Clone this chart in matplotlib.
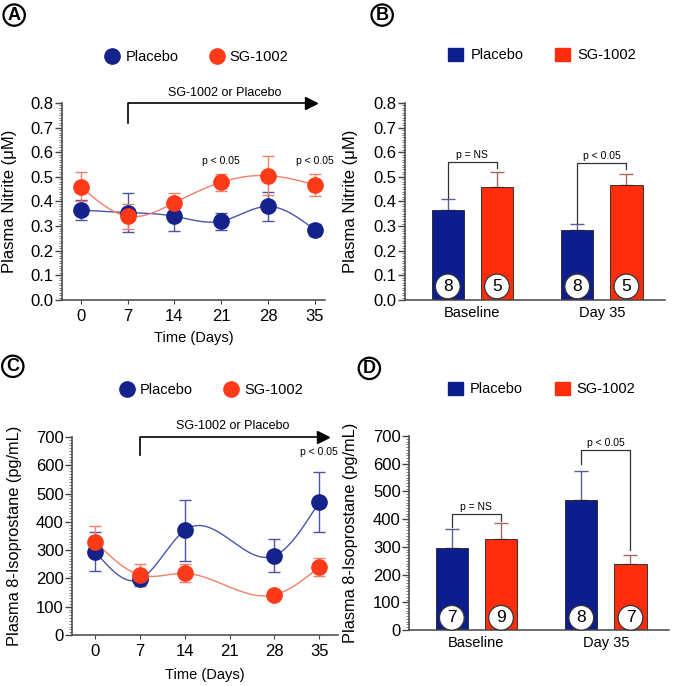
import numpy as np
import matplotlib
matplotlib.use("Agg")
import matplotlib.pyplot as plt
from matplotlib.lines import Line2D
from matplotlib.patches import Patch
from matplotlib.ticker import MultipleLocator

plt.rcParams['font.family'] = ['Liberation Sans', 'DejaVu Sans']

# ---- data ----
days = [0, 7, 14, 21, 28, 35]
nitrite_placebo = [0.365, 0.355, 0.340, 0.320, 0.380, 0.285]
nitrite_placebo_err = [0.040, 0.080, 0.060, 0.035, 0.060, 0.025]
nitrite_sg = [0.460, 0.340, 0.395, 0.478, 0.505, 0.468]
nitrite_sg_err = [0.060, 0.050, 0.040, 0.035, 0.080, 0.045]

iso_days = [0, 7, 14, 28, 35]
iso_placebo = [295, 197, 370, 280, 470]
iso_placebo_err = [70, 25, 108, 58, 105]
iso_sg = [330, 212, 218, 142, 240]
iso_sg_err = [55, 40, 32, 10, 32]

groups = ['Baseline', 'Day 35']
bar_nitrite_placebo = [0.365, 0.285]
bar_nitrite_placebo_err = [0.045, 0.025]
bar_nitrite_sg = [0.460, 0.468]
bar_nitrite_sg_err = [0.060, 0.045]
n_nitrite_placebo = [8, 8]
n_nitrite_sg = [5, 5]

bar_iso_placebo = [295, 470]
bar_iso_placebo_err = [70, 105]
bar_iso_sg = [330, 240]
bar_iso_sg_err = [55, 32]
n_iso_placebo = [7, 8]
n_iso_sg = [9, 7]

sig_labels = ['p = NS', 'p < 0.05']

BLUE = '#15228c'
RED = '#ff3a18'
BLUE_LN = '#4a55a8'
RED_LN = '#f0806a'
BAR_BLUE = '#0c1e8e'
BAR_RED = '#ff2d0c'


def spline(x, y, n=300):
    x = np.asarray(x, float)
    y = np.asarray(y, float)
    m = len(x)
    h = np.diff(x)
    A = np.zeros((m, m))
    r = np.zeros(m)
    A[0, 0] = A[-1, -1] = 1
    for i in range(1, m - 1):
        A[i, i - 1] = h[i - 1]
        A[i, i] = 2 * (h[i - 1] + h[i])
        A[i, i + 1] = h[i]
        r[i] = 3 * ((y[i + 1] - y[i]) / h[i] - (y[i] - y[i - 1]) / h[i - 1])
    c = np.linalg.solve(A, r)
    b = (y[1:] - y[:-1]) / h - h * (2 * c[:-1] + c[1:]) / 3
    d = (c[1:] - c[:-1]) / (3 * h)
    xs = np.linspace(x[0], x[-1], n)
    k = np.clip(np.searchsorted(x, xs) - 1, 0, m - 2)
    dx = xs - x[k]
    return xs, y[k] + b[k] * dx + c[k] * dx ** 2 + d[k] * dx ** 3


def style(ax, major, minor):
    for s in ['top', 'right']:
        ax.spines[s].set_visible(False)
    for s in ['left', 'bottom']:
        ax.spines[s].set_linewidth(1.1)
        ax.spines[s].set_color('#444444')
    ax.yaxis.set_major_locator(MultipleLocator(major))
    ax.yaxis.set_minor_locator(MultipleLocator(minor))
    ax.tick_params(axis='y', which='major', length=5, width=1, labelsize=12, pad=1, color='#444444')
    ax.tick_params(axis='y', which='minor', length=2.5, width=0.6, color='#666666')


def panel_letter(x, y, s):
    fig.text(x, y, s, fontsize=13, fontweight='bold', ha='center', va='center',
             bbox=dict(boxstyle='circle,pad=0.12', fc='white', ec='black', lw=1.6))


def line_panel(ax, x, yp, ep, ys, es, ymax, major, minor, arrow_y0, arrow_end, text_y, fmt):
    for y, e, col, lc in [(yp, ep, BLUE, BLUE_LN), (ys, es, RED, RED_LN)]:
        xs, sm = spline(x, y)
        ax.plot(xs, sm, color=lc, lw=1.0, zorder=2)
        ax.errorbar(x, y, yerr=e, fmt='none', ecolor=lc, elinewidth=1.0, capsize=4, capthick=1.0, zorder=3)
        ax.plot(x, y, 'o', color=col, ms=11, mec=col, zorder=4)
    ax.set_ylim(0, ymax)
    style(ax, major, minor)
    ax.yaxis.set_major_formatter(fmt)
    ax.set_xticks(days)
    ax.tick_params(axis='x', length=3, labelsize=12, color='#444444')
    ax.set_xlabel('Time (Days)', fontsize=10.5)
    # treatment arrow
    ax.plot([7, 7, arrow_end], [arrow_y0, ymax, ymax], color='black', lw=1.2, clip_on=False)
    ax.plot(arrow_end, ymax, marker='>', color='black', ms=8, clip_on=False)
    ax.text(21.5, text_y, 'SG-1002 or Placebo', fontsize=9, ha='center', va='bottom', clip_on=False)
    ax.legend(handles=[Line2D([], [], marker='o', ls='', color=BLUE, ms=11, label='Placebo'),
                       Line2D([], [], marker='o', ls='', color=RED, ms=11, label='SG-1002')],
              ncol=2, frameon=False, fontsize=10.5, loc='center', handletextpad=0.3,
              columnspacing=2.0, handlelength=1.2)


def bar_panel(ax, yp, ep, ys, es, n_p, n_s, ymax, major, minor, n_y, brackets):
    pos = np.arange(len(groups))
    off, w = 0.19, 0.25
    ax.bar(pos - off, yp, w, color=BAR_BLUE, edgecolor='#202020', lw=0.6, zorder=2)
    ax.bar(pos + off, ys, w, color=BAR_RED, edgecolor='#202020', lw=0.6, zorder=2)
    ax.errorbar(pos - off, yp, yerr=[np.zeros(len(yp)), ep], fmt='none', ecolor='#5a5f95',
                elinewidth=1.0, capsize=5, capthick=1.0, zorder=1)
    ax.errorbar(pos + off, ys, yerr=[np.zeros(len(ys)), es], fmt='none', ecolor='#a06a60',
                elinewidth=1.0, capsize=5, capthick=1.0, zorder=1)
    for xi, n in zip(np.concatenate([pos - off, pos + off]), n_p + n_s):
        ax.text(xi, n_y, str(n), fontsize=12.5, ha='center', va='center', zorder=5,
                bbox=dict(boxstyle='circle,pad=0.28', fc='white', ec='#333333', lw=0.9))
    for xi, (top, left, right), lab in zip(pos, brackets, sig_labels):
        ax.plot([xi - off, xi - off, xi + off, xi + off], [left, top, top, right],
                color='#333333', lw=0.9, zorder=3)
        ax.text(xi, top + ymax * 0.012, lab, fontsize=7.5, ha='center', va='bottom')
    ax.set_ylim(0, ymax)
    ax.set_xlim(-0.52, 1.49)
    style(ax, major, minor)
    ax.set_xticks(pos)
    ax.set_xticklabels(groups, fontsize=10.5)
    ax.tick_params(axis='x', length=0, pad=4)
    ax.legend(handles=[Patch(color=BAR_BLUE, label='Placebo'), Patch(color=BAR_RED, label='SG-1002')],
              ncol=2, frameon=False, fontsize=10.5, loc='center', handletextpad=0.5,
              columnspacing=2.2, handlelength=1.0, handleheight=1.0)


fig = plt.figure(figsize=(6.74, 6.86), dpi=100)

axA = fig.add_axes([0.092, 0.5627, 0.390, 0.2872])
line_panel(axA, days, nitrite_placebo, nitrite_placebo_err, nitrite_sg, nitrite_sg_err,
           0.8, 0.1, 0.01, 0.72, 34.5, 0.815, '{x:.1f}')
axA.set_xlim(-2.8, 36.5)
for d in [21, 35]:
    axA.text(d, 0.545, 'p < 0.05', fontsize=7.5, ha='center', va='bottom')
axA.get_legend().set_bbox_to_anchor((0.51, 1.234))
axA.xaxis.set_label_coords(0.5, -0.155)
axA.yaxis.set_label_coords(-0.17, 0.51)
axA.set_ylabel('Plasma Nitrite (\u03bcM)', fontsize=12)

axC = fig.add_axes([0.107, 0.0743, 0.395, 0.2887])
line_panel(axC, iso_days, iso_placebo, iso_placebo_err, iso_sg, iso_sg_err,
           700, 100, 10, 636, 35.6, 718, '{x:.0f}')
axC.set_xlim(-3.6, 38)
axC.text(35, 630, 'p < 0.05', fontsize=7.5, ha='center', va='bottom')
axC.get_legend().set_bbox_to_anchor((0.52, 1.237))
axC.xaxis.set_label_coords(0.5, -0.165)
axC.yaxis.set_label_coords(-0.19, 0.5)
axC.set_ylabel('Plasma 8-Isoprostane (pg/mL)', fontsize=11.8)

axB = fig.add_axes([0.601, 0.5627, 0.386, 0.2872])
bar_panel(axB, bar_nitrite_placebo, bar_nitrite_placebo_err, bar_nitrite_sg, bar_nitrite_sg_err,
          n_nitrite_placebo, n_nitrite_sg, 0.8, 0.1, 0.01, 0.055,
          [(0.56, 0.414, 0.535), (0.556, 0.313, 0.532)])
axB.yaxis.set_major_formatter('{x:.1f}')
axB.get_legend().set_bbox_to_anchor((0.527, 1.244))
axB.yaxis.set_label_coords(-0.18, 0.51)
axB.set_ylabel('Plasma Nitrite (\u03bcM)', fontsize=12)

axD = fig.add_axes([0.607, 0.0816, 0.386, 0.2828])
bar_panel(axD, bar_iso_placebo, bar_iso_placebo_err, bar_iso_sg, bar_iso_sg_err,
          n_iso_placebo, n_iso_sg, 700, 100, 10, 44,
          [(418, 370, 392), (650, 598, 289)])
axD.get_legend().set_bbox_to_anchor((0.51, 1.242))
axD.yaxis.set_label_coords(-0.195, 0.5)
axD.set_ylabel('Plasma 8-Isoprostane (pg/mL)', fontsize=11.8)

panel_letter(0.021, 0.978, 'A')
panel_letter(0.567, 0.978, 'B')
panel_letter(0.019, 0.466, 'C')
panel_letter(0.548, 0.463, 'D')

fig.savefig('out.png', dpi=100, facecolor='white')
